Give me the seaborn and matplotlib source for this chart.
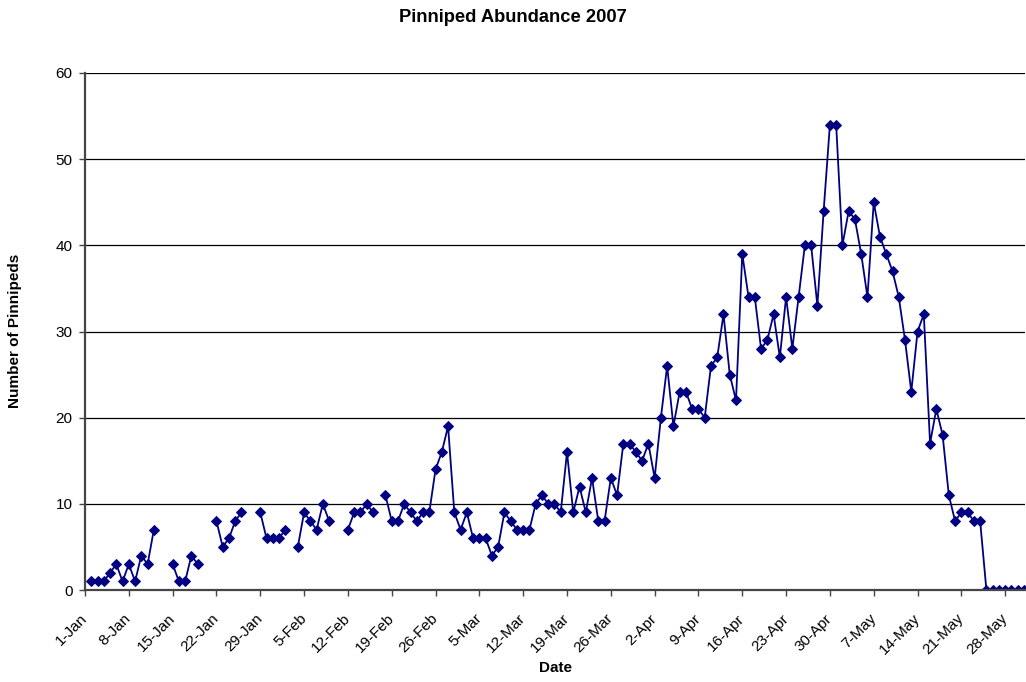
import matplotlib
matplotlib.use('Agg')
import matplotlib.pyplot as plt
import matplotlib.transforms as mtransforms
import seaborn as sns
import pandas as pd
import numpy as np

# daily counts from 1-Jan-2007, one row per week, None = no survey
start_date = '2007-01-01'
counts = [
    None, 1, 1, 1, 2, 3, 1,
    3, 1, 4, 3, 7, None, None,
    3, 1, 1, 4, 3, None, None,
    8, 5, 6, 8, 9, None, None,
    9, 6, 6, 6, 7, None, 5,
    9, 8, 7, 10, 8, None, None,
    7, 9, 9, 10, 9, None, 11,
    8, 8, 10, 9, 8, 9, 9,
    14, 16, 19, 9, 7, 9, 6,
    6, 6, 4, 5, 9, 8, 7,
    7, 7, 10, 11, 10, 10, 9,
    16, 9, 12, 9, 13, 8, 8,
    13, 11, 17, 17, 16, 15, 17,
    13, 20, 26, 19, 23, 23, 21,
    21, 20, 26, 27, 32, 25, 22,
    39, 34, 34, 28, 29, 32, 27,
    34, 28, 34, 40, 40, 33, 44,
    54, 54, 40, 44, 43, 39, 34,
    45, 41, 39, 37, 34, 29, 23,
    30, 32, 17, 21, 18, 11, 8,
    9, 9, 8, 8, 0, 0, 0,
    0, 0, 0, 0,
]
tick_start = '2007-01-01'
tick_end = '2007-05-28'
y_ticks = [0, 10, 20, 30, 40, 50, 60]

sns.set_style('white')
plt.rcParams['font.family'] = ['Liberation Sans', 'DejaVu Sans']
plt.rcParams['text.color'] = 'black'
plt.rcParams['xtick.color'] = 'black'
plt.rcParams['ytick.color'] = 'black'

df = pd.DataFrame({
    'date': pd.date_range(start_date, periods=len(counts), freq='D'),
    'count': np.array(counts, dtype=float),
})
# break the line where days are missing
df['seg'] = df['count'].isna().cumsum()
df = df.dropna()

fig = plt.figure(figsize=(10.26, 6.82), dpi=100)
ax = fig.add_axes([85 / 1026, 1 - 590 / 682, 940 / 1026, 517 / 682])
ax.set_axisbelow(True)

sns.lineplot(data=df, x='date', y='count', units='seg', estimator=None,
             color='#000080', marker='D', markersize=4.6,
             markeredgecolor='#000080', markeredgewidth=0.7,
             linewidth=1.3, ax=ax, legend=False)

ax.set_xlim(pd.Timestamp(start_date), pd.Timestamp('2007-05-31 04:00'))
ax.set_ylim(0, 60)
ax.set_yticks(y_ticks)
ticks = pd.date_range(tick_start, tick_end, freq='7D')
ax.set_xticks(ticks)
ax.set_xticklabels([f"{d.day}-{d.strftime('%b')}" for d in ticks],
                   rotation=45, ha='right', va='center', rotation_mode='anchor')
# nudge the rotated labels a little left, as in the original
shift = mtransforms.ScaledTranslation(-10 / 100, 0, fig.dpi_scale_trans)
for lbl in ax.get_xticklabels():
    lbl.set_transform(lbl.get_transform() + shift)

ax.yaxis.grid(True, color='black', linewidth=0.9)
ax.xaxis.grid(False)
for s in ['top', 'right']:
    ax.spines[s].set_visible(False)
for s in ['left', 'bottom']:
    ax.spines[s].set_color('#454545')
    ax.spines[s].set_linewidth(1.6)
ax.tick_params(axis='both', direction='out', length=4, width=1,
               color='#454545', labelsize=11, bottom=True, left=True)
ax.tick_params(axis='y', pad=5)
ax.tick_params(axis='x', pad=15)
ax.set_xlabel('')
ax.set_ylabel('')

fig.text(0.5, 1 - 18 / 682, 'Pinniped Abundance 2007', ha='center', va='center',
         fontweight='bold', fontsize=13.2)
fig.text(555 / 1026, 1 - 668 / 682, 'Date', ha='center', va='center',
         fontweight='bold', fontsize=11)
fig.text(15 / 1026, 1 - 331 / 682, 'Number of Pinnipeds', ha='center', va='center',
         rotation=90, fontweight='bold', fontsize=11)

fig.savefig('out.png', dpi=100)
